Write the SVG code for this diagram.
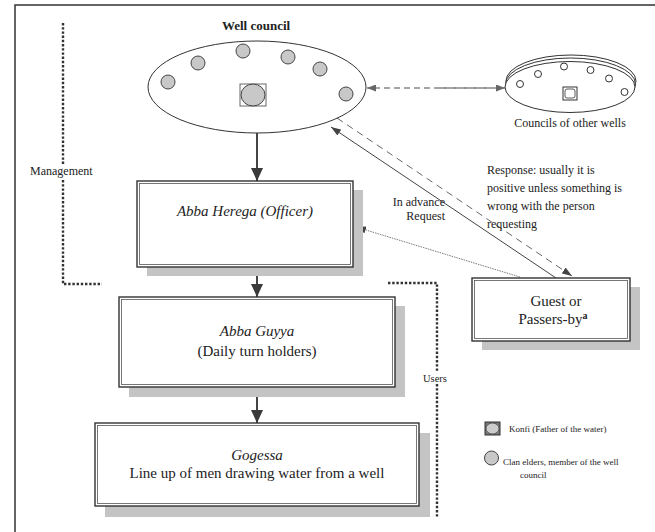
<svg xmlns="http://www.w3.org/2000/svg" width="655" height="532" viewBox="0 0 655 532">
<style>
text{font-family:"Liberation Serif","Times New Roman",serif;fill:#222}
.box{fill:#fff;stroke:#333;stroke-width:1.4}
.inner{fill:none;stroke:#555;stroke-width:0.8}
.shadow{fill:#c4c4c4}
.elder{fill:#c8c8c8;stroke:#444;stroke-width:1}
.other{fill:#fff;stroke:#333;stroke-width:1}
.bracket{fill:none;stroke:#333;stroke-width:2.4;stroke-dasharray:2.4 1.8}
.flow{stroke:#444;stroke-width:2;fill:none}
</style>
<defs>
<marker id="aMain" markerUnits="userSpaceOnUse" markerWidth="13" markerHeight="12" refX="13" refY="6" orient="auto"><path d="M0,0 L13,6 L0,12 z" fill="#3a3a3a"/></marker>
<marker id="aGray" markerUnits="userSpaceOnUse" markerWidth="9" markerHeight="7" refX="9" refY="3.5" orient="auto"><path d="M0,0 L9,3.5 L0,7 z" fill="#666"/></marker>
<marker id="aThin" markerUnits="userSpaceOnUse" markerWidth="10" markerHeight="7" refX="10" refY="3.5" orient="auto"><path d="M0,0 L10,3.5 L0,7 z" fill="#444"/></marker>
</defs>
<rect width="655" height="532" fill="#fff"/>
<path d="M15,532 V5 H655" fill="none" stroke="#333" stroke-width="1.5"/>

<g id="brackets">
<path class="bracket" d="M63,23 V164"/>
<path class="bracket" d="M63,180 V284 H102"/>
<text x="30" y="175" font-size="12">Management</text>
<path class="bracket" d="M388,283 H437 V372"/>
<path class="bracket" d="M437,384 V518"/>
<text x="423" y="382" font-size="10.5">Users</text>
</g>

<g id="connectors">
<line class="flow" x1="257" y1="133" x2="257" y2="181" marker-end="url(#aMain)"/>
<line class="flow" x1="257" y1="267" x2="257" y2="297" marker-end="url(#aMain)"/>
<line class="flow" x1="257" y1="387" x2="257" y2="423" marker-end="url(#aMain)"/>
<line x1="490" y1="88" x2="367" y2="88" stroke="#888" stroke-width="1.3" stroke-dasharray="6 4" marker-end="url(#aGray)"/>
<line x1="440" y1="88" x2="505" y2="88" stroke="#888" stroke-width="1.3" stroke-dasharray="6 4" marker-end="url(#aGray)"/>
<line x1="556" y1="278" x2="331" y2="127" stroke="#444" stroke-width="1" marker-end="url(#aThin)"/>
<line x1="337" y1="118" x2="572" y2="276" stroke="#666" stroke-width="1" stroke-dasharray="7 5" marker-end="url(#aThin)"/>
<line x1="520" y1="277" x2="356" y2="227" stroke="#555" stroke-width="0.8" stroke-dasharray="1.5 1" marker-end="url(#aThin)"/>
<text x="445" y="206" font-size="12" text-anchor="end">In advance</text>
<text x="445" y="220" font-size="12" text-anchor="end">Request</text>
</g>

<g id="well-council">
<text x="256" y="30" font-size="13" font-weight="bold" text-anchor="middle">Well council</text>
<ellipse cx="257" cy="87" rx="109" ry="46" fill="#fff" stroke="#333" stroke-width="1"/>
<circle class="elder" cx="168" cy="82" r="7"/>
<circle class="elder" cx="198" cy="63" r="7"/>
<circle class="elder" cx="243" cy="51" r="7"/>
<circle class="elder" cx="288" cy="57" r="7"/>
<circle class="elder" cx="320" cy="69" r="7"/>
<circle class="elder" cx="346" cy="94" r="7"/>
<rect x="240" y="84" width="26" height="22" fill="#fff" stroke="#666" stroke-width="1"/>
<ellipse cx="253" cy="95" rx="12" ry="11" class="elder"/>
</g>

<g id="other-councils">
<ellipse class="other" cx="571" cy="81" rx="65" ry="26"/>
<ellipse class="other" cx="570.5" cy="84" rx="65" ry="26"/>
<ellipse class="other" cx="570" cy="87" rx="65" ry="25.5"/>
<circle class="other" cx="520" cy="84" r="3.5"/>
<circle class="other" cx="538" cy="74" r="3.5"/>
<circle class="other" cx="564" cy="66.5" r="3.5"/>
<circle class="other" cx="590.5" cy="70" r="3.5"/>
<circle class="other" cx="609" cy="78.5" r="3.5"/>
<circle class="other" cx="624.5" cy="92" r="3.5"/>
<rect x="563" y="87" width="14" height="13" fill="#fff" stroke="#333" stroke-width="1"/>
<rect x="565" y="89" width="10" height="9" rx="2" fill="#fff" stroke="#333" stroke-width="0.8"/>
<text x="570" y="127" font-size="12" text-anchor="middle">Councils of other wells</text>
</g>

<g id="response-note">
<text font-size="12"><tspan x="487" y="174">Response: usually it is</tspan><tspan x="487" y="192">positive unless something is</tspan><tspan x="487" y="210">wrong with the person</tspan><tspan x="487" y="228">requesting</tspan></text>
</g>

<g id="abba-herega">
<rect class="shadow" x="147" y="190" width="216" height="86"/>
<rect class="box" x="137" y="181" width="216" height="86"/>
<rect class="inner" x="139.5" y="183.5" width="211" height="81"/>
<text x="245" y="216" font-size="15" font-style="italic" text-anchor="middle">Abba Herega (Officer)</text>
</g>

<g id="abba-guyya">
<rect class="shadow" x="129" y="306" width="276" height="91"/>
<rect class="box" x="119" y="297" width="276" height="90"/>
<rect class="inner" x="121.5" y="299.5" width="271" height="85"/>
<text x="257" y="336" font-size="15" font-style="italic" text-anchor="middle">Abba Guyya</text>
<text x="257" y="356" font-size="15" text-anchor="middle">(Daily turn holders)</text>
</g>

<g id="gogessa">
<rect class="shadow" x="105" y="433" width="325" height="84"/>
<rect class="box" x="95" y="423" width="324" height="83"/>
<rect class="inner" x="97.5" y="425.5" width="319" height="78"/>
<text x="257" y="460" font-size="15" font-style="italic" text-anchor="middle">Gogessa</text>
<text x="257" y="478" font-size="15" text-anchor="middle">Line up of men drawing water from a well</text>
</g>

<g id="guest">
<rect class="shadow" x="482" y="287" width="158" height="63"/>
<rect class="box" x="472" y="278" width="158" height="63"/>
<rect class="inner" x="474.5" y="280.5" width="153" height="58"/>
<text x="556" y="306" font-size="15" text-anchor="middle">Guest  or</text>
<text x="553" y="324" font-size="15" text-anchor="middle">Passers-by<tspan font-size="10" font-weight="bold" dy="-5">a</tspan></text>
</g>

<g id="legend">
<rect x="485" y="422" width="15" height="13" fill="#777" stroke="#333" stroke-width="1"/>
<ellipse cx="492.5" cy="428.5" rx="6.5" ry="5.5" fill="#ccc" stroke="#444" stroke-width="0.8"/>
<text x="509" y="432" font-size="9">Konfi (Father of the water)</text>
<circle class="elder" cx="491.5" cy="458" r="7"/>
<text x="503" y="465" font-size="9">Clan elders, member of the well</text>
<text x="520" y="478" font-size="9">council</text>
</g>
</svg>
